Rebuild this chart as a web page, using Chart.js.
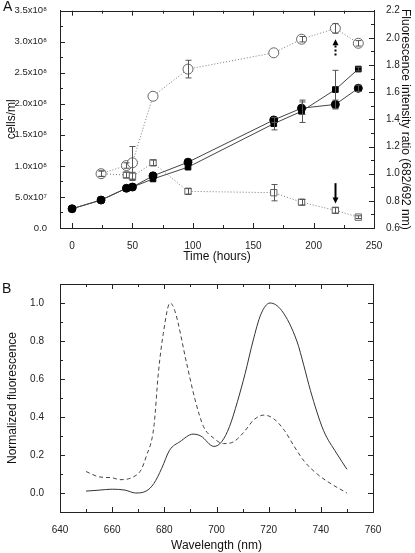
<!DOCTYPE html>
<html>
<head>
<meta charset="utf-8">
<script src="https://cdn.jsdelivr.net/npm/chart.js@4.4.1/dist/chart.umd.min.js"></script>
<style>
  body { margin: 0; background: #fff; }
  #wrap { position: relative; width: 415px; height: 553px; }
  canvas { position: absolute; left: 0; }
  .lbl { position: absolute; font: 14px "Liberation Sans", Arial, sans-serif; color: #111; }
</style>
</head>
<body>
<div id="wrap">
  <canvas id="panelA" width="415" height="270" style="top:0"></canvas>
  <canvas id="panelB" width="415" height="283" style="top:270px"></canvas>
  <div class="lbl" style="left:3px;top:-2px">A</div>
  <div class="lbl" style="left:2px;top:280px">B</div>
</div>
<script>
// ---- panel A: growth + fluorescence ratio ----
const hours = [0, 24, 45, 50, 67, 96, 167, 190, 218, 237];
const cellsCircle = [3.1e7, 4.5e7, 6.4e7, 6.6e7, 8.4e7, 1.06e8, 1.74e8, 1.93e8, 1.99e8, 2.25e8];
const cellsCircleErr = [0, 0, 0, 0, 0, 0, 0.04e8, 0.1e8, 0.07e8, 0.05e8];
const cellsSquare = [3.1e7, 4.5e7, 6.4e7, 6.6e7, 7.9e7, 9.8e7, 1.68e8, 1.88e8, 2.23e8, 2.56e8];
const cellsSquareErr = [0, 0, 0, 0, 0, 0, 0.1e8, 0.18e8, 0.31e8, 0.03e8];

const ratioHours = [24, 45, 50, 67, 96, 167, 190, 218, 237];
const ratioCircle = [1.0, 1.06, 1.08, 1.57, 1.77, 1.89, 1.99, 2.07, 1.96];
const ratioCircleErr = [0.02, 0.02, 0.12, 0, 0.065, 0, 0.02, 0.035, 0.02];
const ratioSquare = [1.0, 0.99, 0.98, 1.08, 0.87, 0.86, 0.79, 0.73, 0.68];
const ratioSquareErr = [0.02, 0.02, 0.03, 0.02, 0.02, 0.06, 0.02, 0.02, 0.01];

const hourTicks = [0, 50, 100, 150, 200, 250];
const cellTicks = [0, 5e7, 1e8, 1.5e8, 2e8, 2.5e8, 3e8, 3.5e8];
const ratioTicks = [0.6, 0.8, 1.0, 1.2, 1.4, 1.6, 1.8, 2.0, 2.2];

// ---- panel B: emission spectra ----
const wlSolid = [650, 655, 660, 665, 669, 673, 676, 679, 682, 686, 691, 694, 699, 702, 705, 708, 711, 714, 717, 720.5, 725, 730.8, 733.5, 736, 741, 746, 750];
const fluoSolid = [0.01, 0.015, 0.02, 0.015, 0.0, 0.01, 0.05, 0.13, 0.225, 0.27, 0.31, 0.30, 0.245, 0.27, 0.35, 0.48, 0.63, 0.80, 0.94, 1.0, 0.96, 0.80, 0.67, 0.54, 0.33, 0.21, 0.125];
const wlDashed = [650, 655, 660, 663, 668, 671, 673, 676, 677.7, 679.6, 682.2, 684, 688.6, 691.8, 695, 698.8, 702.7, 706.6, 710.5, 714.3, 718.2, 722, 726, 729.8, 733.7, 738.6, 743.5, 750];
const fluoDashed = [0.113, 0.085, 0.08, 0.07, 0.084, 0.12, 0.19, 0.35, 0.63, 0.84, 1.0, 0.96, 0.68, 0.49, 0.35, 0.29, 0.26, 0.27, 0.32, 0.385, 0.41, 0.39, 0.33, 0.245, 0.166, 0.10, 0.052, 0.0];

const wlTicks = [640, 660, 680, 700, 720, 740, 760];
const fluoTicks = [0, 0.2, 0.4, 0.6, 0.8, 1.0];

Chart.defaults.font.family = '"Liberation Sans", Arial, sans-serif';
Chart.defaults.color = '#222';

const pts = (xs, ys) => xs.map((x, i) => ({x: x, y: ys[i]}));
const supDigits = '⁰¹²³⁴⁵⁶⁷⁸⁹';
function sci(v) {
    if (v === 0) return '0.0';
    const e = Math.floor(Math.log10(v) + 1e-9);
    return (v / Math.pow(10, e)).toFixed(1) + 'x10' + String(e).split('').map(d => supDigits[d]).join('');
}
const setTicks = list => s => { s.ticks = list.map(v => ({value: v})); };

// box + inward major/minor tick marks
const frameTicks = {
    id: 'frameTicks',
    afterDatasetsDraw(chart, args, opts) {
        const {ctx, chartArea: a} = chart;
        ctx.save();
        ctx.strokeStyle = '#222';
        ctx.lineWidth = 1;
        ctx.strokeRect(Math.round(a.left) + 0.5, Math.round(a.top) + 0.5, Math.round(a.right - a.left), Math.round(a.bottom - a.top));
        (opts.sides || []).forEach(side => {
            const sc = chart.scales[side.scale];
            const major = sc.ticks.map(t => t.value);
            const half = (major[1] - major[0]) / 2;
            for (let i = -4; i < major.length * 2 + 4; i++) {
                const v = major[0] + i * half;
                if (v < sc.min - 1e-9 || v > sc.max + 1e-9) continue;
                const len = i % 2 === 0 ? 5 : 3;
                const p = Math.round(sc.getPixelForValue(v)) + 0.5;
                ctx.beginPath();
                if (side.pos === 'left') { ctx.moveTo(a.left, p); ctx.lineTo(a.left + len, p); }
                if (side.pos === 'right') { ctx.moveTo(a.right, p); ctx.lineTo(a.right - len, p); }
                if (side.pos === 'bottom') { ctx.moveTo(p, a.bottom); ctx.lineTo(p, a.bottom - len); }
                if (side.pos === 'top') { ctx.moveTo(p, a.top); ctx.lineTo(p, a.top + len); }
                ctx.stroke();
            }
        });
        ctx.restore();
    }
};

const errorBars = {
    id: 'errorBars',
    afterDatasetsDraw(chart) {
        const ctx = chart.ctx;
        chart.data.datasets.forEach((ds, i) => {
            if (!ds.errors) return;
            const ys = chart.scales[ds.yAxisID];
            const xs = chart.scales.x;
            ctx.save();
            ctx.strokeStyle = '#555';
            ctx.lineWidth = 1;
            ds.data.forEach((d, j) => {
                const e = ds.errors[j];
                if (!e) return;
                const x = Math.round(xs.getPixelForValue(d.x)) + 0.5;
                const y1 = ys.getPixelForValue(d.y - e), y2 = ys.getPixelForValue(d.y + e);
                ctx.beginPath();
                ctx.moveTo(x, y1); ctx.lineTo(x, y2);
                ctx.moveTo(x - 3, y1); ctx.lineTo(x + 3, y1);
                ctx.moveTo(x - 3, y2); ctx.lineTo(x + 3, y2);
                ctx.stroke();
            });
            ctx.restore();
        });
    }
};

const arrows = {
    id: 'arrows',
    afterDatasetsDraw(chart, args, opts) {
        const ctx = chart.ctx;
        (opts.list || []).forEach(ar => {
            const ys = chart.scales[ar.scale];
            const x = Math.round(chart.scales.x.getPixelForValue(ar.x)) + 0.5;
            const y0 = ys.getPixelForValue(ar.from), y1 = ys.getPixelForValue(ar.to);
            const dir = y1 < y0 ? 1 : -1;
            ctx.save();
            ctx.strokeStyle = '#000';
            ctx.fillStyle = '#000';
            ctx.lineWidth = 2;
            ctx.setLineDash(ar.dashed ? [2, 2] : []);
            ctx.beginPath();
            ctx.moveTo(x, y0); ctx.lineTo(x, y1 + dir * 5);
            ctx.stroke();
            ctx.setLineDash([]);
            ctx.beginPath();
            ctx.moveTo(x, y1); ctx.lineTo(x - 3, y1 + dir * 6); ctx.lineTo(x + 3, y1 + dir * 6);
            ctx.closePath();
            ctx.fill();
            ctx.restore();
        });
    }
};

const titleFont = {size: 12};
const tickFont = {size: 10};

new Chart(document.getElementById('panelA'), {
    type: 'scatter',
    data: {
        datasets: [{
            data: pts(hours, cellsCircle),
            errors: cellsCircleErr,
            yAxisID: 'y',
            showLine: true,
            borderColor: '#444',
            borderWidth: 1,
            pointStyle: 'circle',
            pointRadius: 4,
            pointBackgroundColor: '#000',
            pointBorderColor: '#000'
        }, {
            data: pts(hours, cellsSquare),
            errors: cellsSquareErr,
            yAxisID: 'y',
            showLine: true,
            borderColor: '#444',
            borderWidth: 1,
            pointStyle: 'rect',
            pointRadius: 4,
            pointBackgroundColor: '#000',
            pointBorderColor: '#000'
        }, {
            data: pts(ratioHours, ratioCircle),
            errors: ratioCircleErr,
            yAxisID: 'y2',
            showLine: true,
            borderColor: '#777',
            borderWidth: 1,
            borderDash: [1, 2],
            pointStyle: 'circle',
            pointRadius: 5,
            pointBackgroundColor: '#fff',
            pointBorderColor: '#666'
        }, {
            data: pts(ratioHours, ratioSquare),
            errors: ratioSquareErr,
            yAxisID: 'y2',
            showLine: true,
            borderColor: '#777',
            borderWidth: 1,
            borderDash: [1, 2],
            pointStyle: 'rect',
            pointRadius: 4.5,
            pointBackgroundColor: '#fff',
            pointBorderColor: '#666'
        }]
    },
    options: {
        responsive: false,
        animation: false,
        devicePixelRatio: 1,
        layout: {padding: {top: 8, left: 0, right: 0, bottom: 0}},
        plugins: {
            legend: {display: false},
            tooltip: {enabled: false},
            frameTicks: {sides: [
                {scale: 'x', pos: 'bottom'}, {scale: 'x', pos: 'top'},
                {scale: 'y', pos: 'left'}, {scale: 'y2', pos: 'right'}
            ]},
            arrows: {list: [
                {x: 218, scale: 'y2', from: 1.87, to: 1.99, dashed: true},
                {x: 218, scale: 'y2', from: 0.93, to: 0.78, dashed: false}
            ]}
        },
        scales: {
            x: {
                type: 'linear', min: -10, max: 250,
                afterBuildTicks: setTicks(hourTicks),
                afterFit: s => { s.height = 42; },
                grid: {display: false},
                border: {display: true, color: '#222'},
                ticks: {font: tickFont, padding: 4, maxRotation: 0, callback: v => v},
                title: {display: true, text: 'Time (hours)', font: titleFont, color: '#111', padding: {top: 0, bottom: 6}}
            },
            y: {
                type: 'linear', position: 'left', min: 0, max: 3.5e8,
                afterBuildTicks: setTicks(cellTicks),
                afterFit: s => { s.width = 60; },
                grid: {display: false},
                border: {display: true, color: '#222'},
                ticks: {font: {size: 9.5}, padding: 5, callback: v => sci(v)},
                title: {display: true, text: 'cells/ml', font: titleFont, color: '#111', padding: {top: 4, bottom: 0}}
            },
            y2: {
                type: 'linear', position: 'right', min: 0.6, max: 2.2,
                afterBuildTicks: setTicks(ratioTicks),
                afterFit: s => { s.width = 41; },
                grid: {display: false},
                border: {display: true, color: '#222'},
                ticks: {font: tickFont, padding: 4, callback: v => v.toFixed(1)},
                title: {display: true, text: 'Fluorescence intensity ratio (682/692 nm)', font: titleFont, color: '#111', padding: {top: 2, bottom: 0}}
            }
        }
    },
    plugins: [frameTicks, errorBars, arrows]
});

new Chart(document.getElementById('panelB'), {
    type: 'scatter',
    data: {
        datasets: [{
            data: pts(wlSolid, fluoSolid),
            showLine: true,
            borderColor: '#333',
            borderWidth: 1,
            pointRadius: 0,
            cubicInterpolationMode: 'monotone'
        }, {
            data: pts(wlDashed, fluoDashed),
            showLine: true,
            borderColor: '#444',
            borderWidth: 1,
            borderDash: [4, 3],
            pointRadius: 0,
            cubicInterpolationMode: 'monotone'
        }]
    },
    options: {
        responsive: false,
        animation: false,
        devicePixelRatio: 1,
        layout: {padding: {top: 13, left: 0, right: 42, bottom: 0}},
        plugins: {
            legend: {display: false},
            tooltip: {enabled: false},
            frameTicks: {sides: [
                {scale: 'x', pos: 'bottom'}, {scale: 'x', pos: 'top'},
                {scale: 'y', pos: 'left'}, {scale: 'y', pos: 'right'}
            ]}
        },
        scales: {
            x: {
                type: 'linear', min: 640, max: 760,
                afterBuildTicks: setTicks(wlTicks),
                afterFit: s => { s.height = 41; },
                grid: {display: false},
                border: {display: true, color: '#222'},
                ticks: {font: tickFont, padding: 4, maxRotation: 0, callback: v => v},
                title: {display: true, text: 'Wavelength (nm)', font: titleFont, color: '#111', padding: {top: 0, bottom: 0}}
            },
            y: {
                type: 'linear', min: -0.1, max: 1.1,
                afterBuildTicks: setTicks(fluoTicks),
                afterFit: s => { s.width = 60; },
                grid: {display: false},
                border: {display: true, color: '#222'},
                ticks: {font: tickFont, padding: 8, callback: v => v.toFixed(1)},
                title: {display: true, text: 'Normalized fluorescence', font: titleFont, color: '#111', padding: {top: 5, bottom: 0}}
            }
        }
    },
    plugins: [frameTicks]
});
</script>
</body>
</html>
